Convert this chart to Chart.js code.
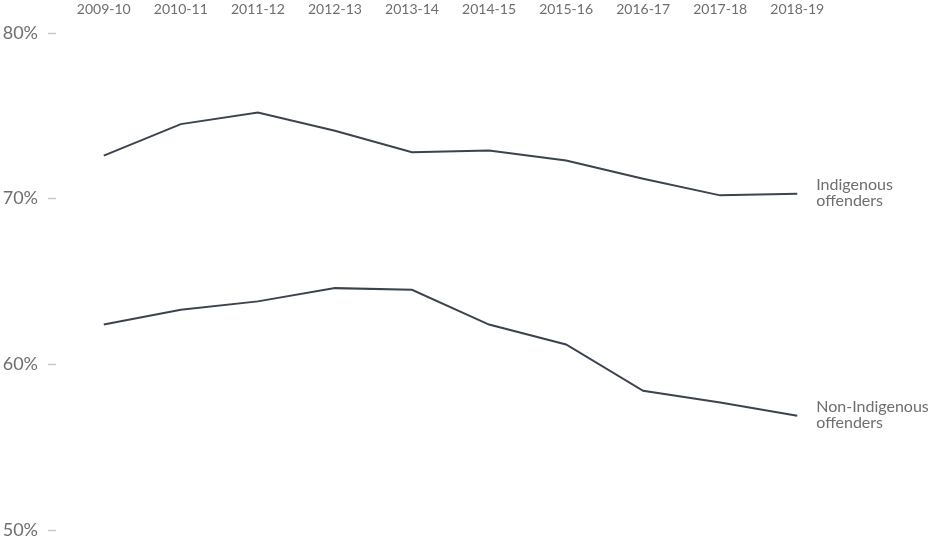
<!DOCTYPE html>
<html>
<head>
<meta charset="utf-8">
<script src="https://cdn.jsdelivr.net/npm/chart.js@4"></script>
<style>
  body { margin: 0; background: #fff; }
  #wrap { width: 943px; height: 545px; position: relative; }
</style>
</head>
<body>
<div id="wrap"><canvas id="line-chart"></canvas></div>
<script>
var years = ["2009-10", "2010-11", "2011-12", "2012-13", "2013-14", "2014-15", "2015-16", "2016-17", "2017-18", "2018-19"];
var indigenous = [72.6, 74.5, 75.2, 74.1, 72.8, 72.9, 72.3, 71.2, 70.2, 70.3];
var nonIndigenous = [62.4, 63.3, 63.8, 64.6, 64.5, 62.4, 61.2, 58.4, 57.7, 56.9];
var seriesLabels = [["Indigenous", "offenders"], ["Non-Indigenous", "offenders"]];
var yTicks = [50, 60, 70, 80];

var lineColor = '#3b4350';
var textColor = '#6e6e6e';
var fontFamily = 'Lato, "Open Sans", sans-serif';

function toPoints(values) {
    return values.map(function (v, i) { return { x: i, y: v }; });
}

// draws the series name next to the last point of each line
var endLabels = {
    id: 'endLabels',
    afterDatasetsDraw: function (chart) {
        var ctx = chart.ctx;
        ctx.save();
        ctx.font = '16px ' + fontFamily;
        ctx.fillStyle = textColor;
        ctx.textAlign = 'left';
        ctx.textBaseline = 'middle';
        chart.data.datasets.forEach(function (ds, i) {
            var meta = chart.getDatasetMeta(i);
            var last = meta.data[meta.data.length - 1];
            var lines = seriesLabels[i];
            lines.forEach(function (t, j) {
                ctx.fillText(t, last.x + 19, last.y - 1 + (j - 0.5) * 16);
            });
        });
        ctx.restore();
    }
};

var lineChart = new Chart(document.getElementById("line-chart"), {
    type: 'line',
    data: {
        datasets: [{
            label: "Indigenous offenders",
            data: toPoints(indigenous),
            borderColor: lineColor,
            borderWidth: 2,
            pointRadius: 0,
            tension: 0
        }, {
            label: "Non-Indigenous offenders",
            data: toPoints(nonIndigenous),
            borderColor: lineColor,
            borderWidth: 2,
            pointRadius: 0,
            tension: 0
        }]
    },
    options: {
        responsive: true,
        maintainAspectRatio: false,
        animation: false,
        layout: { padding: { left: 0, right: 108, top: 0, bottom: 15 } },
        plugins: {
            legend: { display: false },
            tooltip: { enabled: false }
        },
        scales: {
            x: {
                type: 'linear',
                position: 'top',
                min: -0.62,
                max: 9.49,
                grid: { display: false },
                border: { display: false },
                afterFit: function (scale) { scale.height = 33; },
                afterBuildTicks: function (scale) {
                    scale.ticks = years.map(function (y, i) { return { value: i }; });
                },
                ticks: {
                    autoSkip: false,
                    maxRotation: 0,
                    padding: 7,
                    color: textColor,
                    font: { family: fontFamily, size: 14 },
                    callback: function (v) { return years[v]; }
                }
            },
            y: {
                min: 50,
                max: 80,
                afterFit: function (scale) {
                    scale.width = 56;
                    scale.paddingTop = 0;
                    scale.paddingBottom = 0;
                },
                afterBuildTicks: function (scale) {
                    scale.ticks = yTicks.map(function (v) { return { value: v }; });
                },
                grid: {
                    drawOnChartArea: false,
                    drawTicks: true,
                    tickLength: 8,
                    tickColor: '#c8c8c8',
                    tickWidth: 1.5
                },
                border: { display: false },
                ticks: {
                    padding: 10,
                    color: textColor,
                    font: { family: fontFamily, size: 18 },
                    callback: function (v) { return v + '%'; }
                }
            }
        }
    },
    plugins: [endLabels]
});
</script>
</body>
</html>
